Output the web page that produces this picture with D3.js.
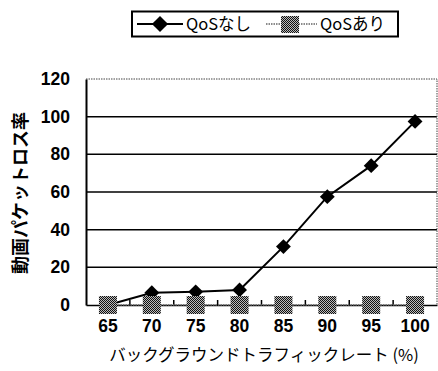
<!DOCTYPE html>
<html><head><meta charset="utf-8">
<script src="https://cdn.jsdelivr.net/npm/d3@7"></script>
<style>body{margin:0;background:#fff}svg{display:block}</style>
</head><body>
<script>
const categories = ["65","70","75","80","85","90","95","100"];
const qosNone = [0, 6.5, 7, 8, 31, 57.5, 74, 97.5];
const qosOn = [0, 0, 0, 0, 0, 0, 0, 0];
const yTicks = [0, 20, 40, 60, 80, 100, 120];
const seriesNames = ["QoSなし", "QoSあり"];
const yTitle = "動画パケットロス率";
const xTitle = "バックグラウンドトラフィックレート (%)";

const W = 438, H = 371;
const m = {left: 86, right: 437, top: 79, bottom: 305};
const svg = d3.select("body").append("svg").attr("width", W).attr("height", H);
const defs = svg.append("defs");
const pat = defs.append("pattern").attr("id","chk").attr("width",2).attr("height",2).attr("patternUnits","userSpaceOnUse");
pat.append("rect").attr("width",2).attr("height",2).attr("fill","#bbb");
pat.append("rect").attr("width",1).attr("height",1).attr("fill","#111");
pat.append("rect").attr("x",1).attr("y",1).attr("width",1).attr("height",1).attr("fill","#111");

const x = d3.scaleBand().domain(categories).range([m.left, m.right]);
const y = d3.scaleLinear().domain([0,120]).range([m.bottom, m.top]);
const cx = c => x(c) + x.bandwidth()/2;
const numFont = "'Liberation Sans', Arial, sans-serif";
const jpFont = "'Noto Sans CJK JP', sans-serif";

// gridlines
svg.append("g").selectAll("line").data(yTicks.filter(t => t>0 && t<120)).join("line")
  .attr("x1", m.left).attr("x2", m.right).attr("y1", d=>y(d)).attr("y2", d=>y(d))
  .attr("stroke","#000").attr("stroke-width",1.5);
// top & right border dotted
svg.append("path").attr("d", `M${m.left},${y(120)}H${m.right}V${m.bottom}`)
  .attr("fill","none").attr("stroke","#444").attr("stroke-width",1).attr("stroke-dasharray","1.5,1");

// y axis
const ya = svg.append("g").attr("transform",`translate(${m.left},0)`)
  .call(d3.axisLeft(y).tickValues(yTicks).tickSize(0).tickPadding(16));
ya.select(".domain").attr("stroke","#000").attr("stroke-width",2);
ya.selectAll("text").attr("font-family",numFont).attr("font-weight","bold").attr("font-size",17.5).attr("fill","#000");

// x axis
const xa = svg.append("g").attr("transform",`translate(0,${m.bottom})`)
  .call(d3.axisBottom(x).tickSize(0).tickPadding(15));
xa.select(".domain").attr("stroke","#000").attr("stroke-width",1.5);
xa.selectAll("text").attr("font-family",numFont).attr("font-weight","bold").attr("font-size",17.5).attr("fill","#000");
// inner ticks at category boundaries
svg.append("g").selectAll("line").data(categories.slice(1)).join("line")
  .attr("x1", d=>x(d)).attr("x2", d=>x(d)).attr("y1", m.bottom).attr("y2", m.bottom-5)
  .attr("stroke","#000").attr("stroke-width",1.5);

// QoSあり series
const line = d3.line().x((d,i)=>cx(categories[i])).y(d=>y(d));
svg.append("path").datum(qosOn).attr("d", line).attr("fill","none")
  .attr("stroke","#666").attr("stroke-width",1.5).attr("stroke-dasharray","1.5,1");
// QoSなし series
svg.append("path").datum(qosNone).attr("d", line).attr("fill","none")
  .attr("stroke","#000").attr("stroke-width",2);
const diamond = d3.symbol().type(d3.symbolSquare).size(110);
svg.append("g").selectAll("path").data(qosNone).join("path")
  .attr("d", diamond)
  .attr("transform",(d,i)=>`translate(${cx(categories[i])},${y(d)}) rotate(45)`)
  .attr("fill","#000");
svg.append("g").selectAll("rect").data(qosOn).join("rect")
  .attr("x",(d,i)=>cx(categories[i])-9).attr("y",d=>y(d)-9)
  .attr("width",18).attr("height",18).attr("fill","url(#chk)");

// axis titles
svg.append("text").attr("x", 264).attr("y", 361)
  .attr("text-anchor","middle").attr("font-family",jpFont).attr("font-size",16.5).text(xTitle);
svg.append("text").attr("transform","translate(27,193) rotate(-90)")
  .attr("text-anchor","middle").attr("font-family",jpFont).attr("font-weight","bold").attr("font-size",18).text(yTitle);

// legend
const lg = svg.append("g");
lg.append("rect").attr("x",132).attr("y",11.5).attr("width",266).attr("height",25)
  .attr("fill","#fff").attr("stroke","#000").attr("stroke-width",2);
lg.append("line").attr("x1",137).attr("x2",183).attr("y1",24).attr("y2",24).attr("stroke","#000").attr("stroke-width",2);
lg.append("path").attr("d",d3.symbol().type(d3.symbolSquare).size(130)).attr("transform","translate(160,24) rotate(45)").attr("fill","#000");
lg.append("text").attr("x",186).attr("y",30).attr("font-family",jpFont).attr("font-size",16.5).text(seriesNames[0]);
lg.append("line").attr("x1",266).attr("x2",317).attr("y1",24).attr("y2",24).attr("stroke","#666").attr("stroke-width",1.5).attr("stroke-dasharray","1.5,1");
lg.append("rect").attr("x",281).attr("y",16).attr("width",18).attr("height",17).attr("fill","url(#chk)");
lg.append("text").attr("x",320).attr("y",30).attr("font-family",jpFont).attr("font-size",16.5).text(seriesNames[1]);
</script>
</body></html>
